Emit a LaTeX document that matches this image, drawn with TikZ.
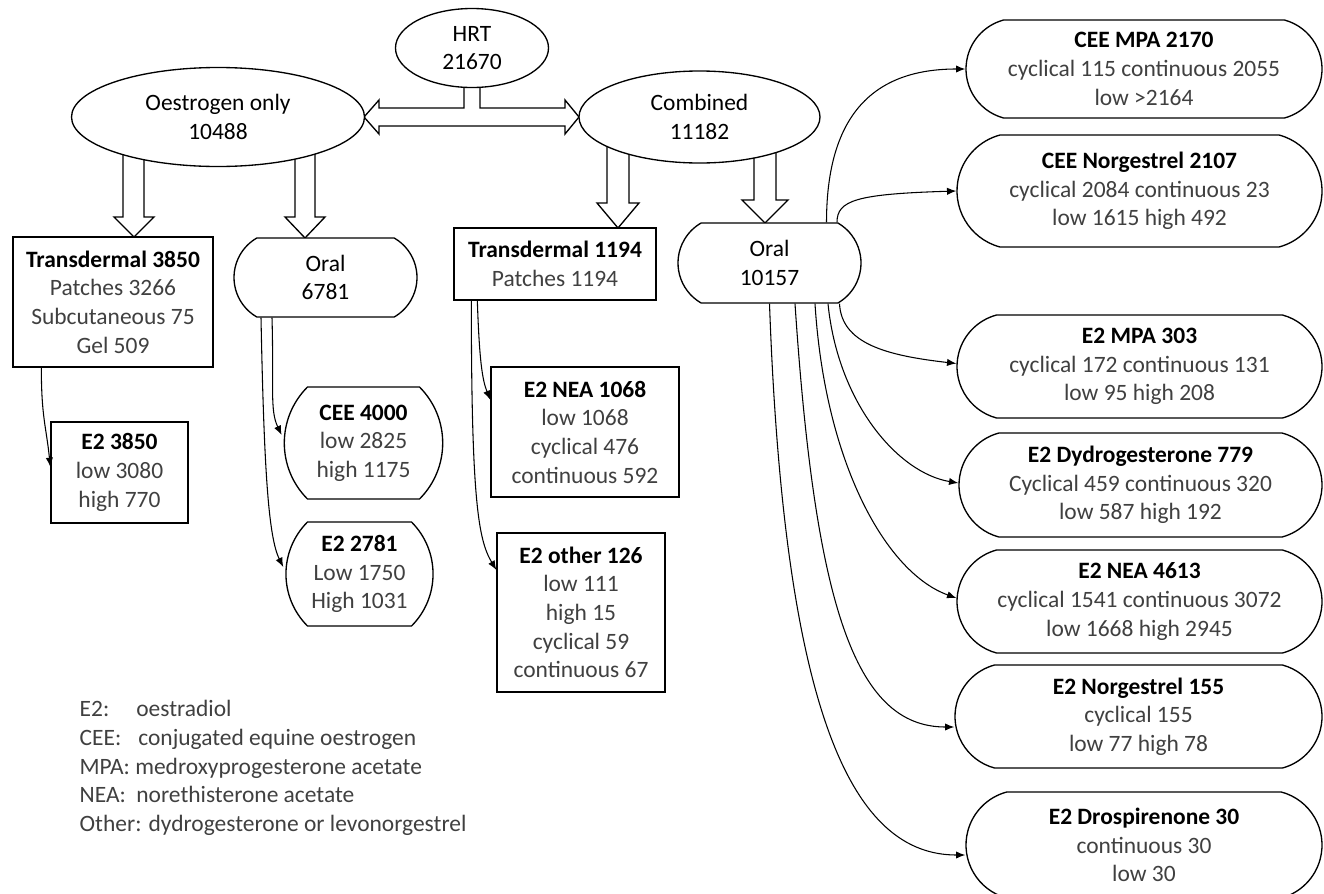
\documentclass[tikz,border=0pt]{standalone}
\usepackage{fontspec}
\setmainfont{Carlito}
\usetikzlibrary{shapes.geometric,shapes.misc,arrows.meta,calc}
\definecolor{txt}{HTML}{404040}
\begin{document}
\begin{tikzpicture}[x=0.75pt,y=-0.75pt,
  every node/.style={font=\fontsize{17.6}{21.5}\selectfont, align=center, inner sep=0pt, line width=1pt},
  ell/.style={draw, ellipse, fill=white, text=black},
  sq/.style={draw, rectangle, fill=white, text=txt},
  rr/.style={draw, rounded rectangle, rounded rectangle arc length=#1, fill=white, text=txt},
  conn/.style={line width=0.8pt, -{Latex[length=7pt,width=5.5pt]}},
  blk/.style={draw, line width=1pt, fill=white},
]
\useasboundingbox (0,0) rectangle (1324,893);
\newcommand{\hd}[1]{\textcolor{black}{\textbf{#1}}}

% block arrows (drawn first, nodes cover their tails)
\draw[blk] (123,140) -- (123,217) -- (114,217) -- (134,237) -- (154,217) -- (144,217) -- (144,140) -- cycle;
\draw[blk] (295,140) -- (295,217) -- (285,217) -- (305,238) -- (325,217) -- (315,217) -- (315,140) -- cycle;
\draw[blk] (607,135) -- (607,203) -- (597,203) -- (618,228) -- (639,203) -- (629,203) -- (629,135) -- cycle;
\draw[blk] (754,140) -- (754,200) -- (742,200) -- (765,223) -- (788,200) -- (776,200) -- (776,140) -- cycle;
\draw[blk] (364,117) -- (379,100) -- (379,108) -- (464,108) -- (464,70) -- (480,70) -- (480,108)
  -- (565,108) -- (565,100) -- (579,117) -- (565,134) -- (565,126) -- (379,126) -- (379,134) -- cycle;

% top level
\node[ell, minimum width=114.75pt, minimum height=59.25pt] (hrt) at (472,48) {HRT\\21670};
\node[ell, minimum width=219.75pt, minimum height=74.25pt] (oest) at (218,117) {Oestrogen only\\10488};
\node[ell, minimum width=180.75pt, minimum height=69pt] (comb) at (699.5,117) {Combined\\11182};

% second level
\node[sq, minimum width=150pt, minimum height=97.5pt] (t1) at (113,302)
  {\hd{Transdermal 3850}\\Patches 3266\\Subcutaneous 75\\Gel 509};
\node[rr=120, text=black, minimum width=137.25pt, minimum height=59.25pt] (o1) at (325.5,277.5) {Oral\\6781};
\node[sq, minimum width=151.5pt, minimum height=54pt] (t2) at (555,264)
  {\hd{Transdermal 1194}\\Patches 1194};
\node[rr=120, text=black, minimum width=137.25pt, minimum height=60pt] (o2) at (769.5,263) {Oral\\10157};

% third level, left
\node[sq, minimum width=102.75pt, minimum height=75.75pt] (e23850) at (119.5,472.5)
  {\hd{E2 3850}\\low 3080\\high 770};
\node[rr=90, minimum width=110.25pt, minimum height=84pt] (cee4000) at (363.5,443)
  {\hd{CEE 4000}\\low 2825\\high 1175};
\node[rr=90, minimum width=110.25pt, minimum height=78pt] (e22781) at (359.5,574)
  {\hd{E2 2781}\\Low 1750\\High 1031};
\node[sq, minimum width=141pt, minimum height=97.5pt] (e2nea1068) at (585,432)
  {\hd{E2 NEA 1068}\\low 1068\\cyclical 476\\continuous 592};
\node[sq, minimum width=126pt, minimum height=119.25pt] (e2other) at (581,612.5)
  {\hd{E2 other 126}\\low 111\\high 15\\cyclical 59\\continuous 67};

% third level, right
\node[rr=150, minimum width=267pt, minimum height=73.5pt] (ceempa) at (1144,69)
  {\hd{CEE MPA 2170}\\cyclical 115 continuous 2055\\low >2164};
\node[rr=150, minimum width=273.75pt, minimum height=84pt] (ceenorg) at (1139.5,191)
  {\hd{CEE Norgestrel 2107}\\cyclical 2084 continuous 23\\low 1615 high 492};
\node[rr=150, minimum width=273.75pt, minimum height=77.25pt] (e2mpa) at (1139.5,366.5)
  {\hd{E2 MPA 303}\\cyclical 172 continuous 131\\low 95 high 208};
\node[rr=150, minimum width=272.25pt, minimum height=78pt] (e2dydro) at (1140.5,485)
  {\hd{E2 Dydrogesterone 779}\\Cyclical 459 continuous 320\\low 587 high 192};
\node[rr=150, minimum width=273.75pt, minimum height=77.25pt] (e2nea4613) at (1139.5,601.5)
  {\hd{E2 NEA 4613}\\cyclical 1541 continuous 3072\\low 1668 high 2945};
\node[rr=150, minimum width=275.25pt, minimum height=77.25pt] (e2norg) at (1138.5,716.5)
  {\hd{E2 Norgestrel 155}\\cyclical 155\\low 77 high 78};
\node[rr=150, minimum width=267pt, minimum height=79.5pt] (e2drosp) at (1144,845)
  {\hd{E2 Drospirenone 30}\\continuous 30\\low 30};

% legend
\node[text=txt, align=left, anchor=west] (legend) at (79,768)
  {\makebox[42.5pt][l]{E2:}oestradiol\\
   \makebox[44pt][l]{CEE:}conjugated equine oestrogen\\
   MPA: medroxyprogesterone acetate\\
   \makebox[42.5pt][l]{NEA:}norethisterone acetate\\
   Other: dydrogesterone or levonorgestrel};

% connectors
\draw[conn] ($(t1.south west)+(29,0)$) .. controls +(0,50) and +(-4,-40) .. ($(e23850.west)+(0,-5.5)$);
\draw[conn] ($(o1.south)+(-53.5,0)$) .. controls +(2,70) and +(-12,-25) .. ($(cee4000.west)+(-2,-8)$);
\draw[conn] ($(o1.south)+(-64.5,0)$) .. controls +(3,150) and +(-15,-30) .. ($(e22781.west)+(-2,-7)$);
\draw[conn] ($(t2.south west)+(24,0)$) .. controls +(2,60) and +(-8,-20) .. ($(e2nea1068.west)+(0,-32)$);
\draw[conn] ($(t2.south west)+(18,0)$) .. controls +(0,200) and +(-18,-30) .. ($(e2other.west)+(0,-42.5)$);

\draw[conn] ($(o2.north)+(57,0)$) .. controls +(0,-120) and +(-80,0) .. (ceempa.west);
\draw[conn] ($(o2.north)+(67.5,0)$) .. controls +(0,-22) and +(-100,3) .. (ceenorg.west);
\draw[conn] ($(o2.south)+(70,0)$) .. controls +(2,40) and +(-70,-8) .. ($(e2mpa.west)+(0,-3)$);
\draw[conn] ($(o2.south)+(58.5,0)$) .. controls +(10,100) and +(-60,-10) .. ($(e2dydro.west)+(0,-2)$);
\draw[conn] ($(o2.south)+(45.5,0)$) .. controls +(10,160) and +(-70,-25) .. ($(e2nea4613.west)+(0,-3.5)$);
\draw[conn] ($(o2.south)+(25.5,0)$) .. controls +(20,300) and +(-100,0) .. ($(e2norg.west)+(0,10.5)$);
\draw[conn] ($(o2.south)+(0,0)$) .. controls +(15,420) and +(-110,0) .. ($(e2drosp.west)+(0,10)$);
\end{tikzpicture}
\end{document}
